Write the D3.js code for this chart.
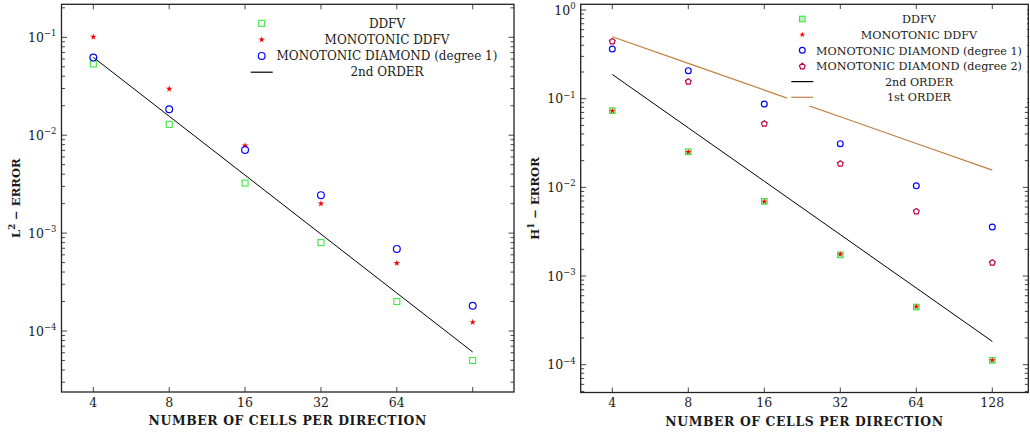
<!DOCTYPE html>
<html>
<head>
<meta charset="utf-8">
<script src="https://cdn.jsdelivr.net/npm/d3@7"></script>
<style>
  html, body { margin: 0; padding: 0; background: #fff; }
  svg { display: block; }
  text { font-family: "DejaVu Serif", "Liberation Serif", serif; fill: #1a1a1a; }
</style>
</head>
<body>
<svg id="chart" width="1030" height="435"></svg>
<script>
// Mesh sizes (cells per direction)
const cells = [4, 8, 16, 32, 64, 128];
const xTickLabelsL2 = ["4", "8", "16", "32", "64", ""];
const xTickLabelsH1 = ["4", "8", "16", "32", "64", "128"];

// L2 errors
const ddfvL2      = [0.0534, 0.0129, 0.00324, 0.00080, 0.000200, 0.0000500];
const monoDdfvL2  = [0.101, 0.0297, 0.00783, 0.00200, 0.000494, 0.000123];
const diamond1L2  = [0.0620, 0.0184, 0.00708, 0.00244, 0.000690, 0.000181];
const order2L2    = [0.0625, 0.015625, 0.00390625, 0.0009765625, 0.000244140625, 0.00006103515625];

// H1 errors
const ddfvH1      = [0.0733, 0.0252, 0.00695, 0.00173, 0.000447, 0.000112];
const monoDdfvH1  = [0.0728, 0.0250, 0.00690, 0.00176, 0.000452, 0.000112];
const diamond1H1  = [0.363, 0.207, 0.0871, 0.0311, 0.0104, 0.00357];
const diamond2H1  = [0.447, 0.157, 0.0527, 0.0187, 0.00540, 0.00143];
const order2H1    = [0.1875, 0.046875, 0.01171875, 0.0029296875, 0.000732421875, 0.00018310546875];
const order1H1    = [0.5, 0.25, 0.125, 0.0625, 0.03125, 0.015625];

// Tick values
const yTicksL2 = [1e-1, 1e-2, 1e-3, 1e-4];
const yTickExpL2 = ["\u22121", "\u22122", "\u22123", "\u22124"];
const yTicksH1 = [1e0, 1e-1, 1e-2, 1e-3, 1e-4];
const yTickExpH1 = ["0", "\u22121", "\u22122", "\u22123", "\u22124"];

const COLORS = {
  green: "#3ee83e",
  red: "#ff0000",
  blue: "#0000ff",
  purple: "#bf0040",
  black: "#000000",
  brown: "#bf8040"
};

const svg = d3.select("#chart");

function pentagonPath(r) {
  const pts = d3.range(5).map(i => {
    const a = -Math.PI / 2 + i * 2 * Math.PI / 5;
    return [r * Math.cos(a), r * Math.sin(a)];
  });
  return "M" + pts.map(p => p.join(",")).join("L") + "Z";
}

function drawMarker(g, kind, x, y, s) {
  if (kind === "square") {
    g.append("rect").attr("x", x - s.sq / 2).attr("y", y - s.sq / 2)
      .attr("width", s.sq).attr("height", s.sq)
      .attr("fill", s.sqFill).attr("stroke", COLORS.green).attr("stroke-width", 1.1);
  } else if (kind === "star") {
    g.append("path").attr("transform", `translate(${x},${y})`)
      .attr("d", d3.symbol(d3.symbolStar, s.star)())
      .attr("fill", COLORS.red);
  } else if (kind === "circle") {
    g.append("circle").attr("cx", x).attr("cy", y).attr("r", s.circ)
      .attr("fill", "none").attr("stroke", COLORS.blue).attr("stroke-width", 1.2);
  } else if (kind === "pentagon") {
    g.append("path").attr("transform", `translate(${x},${y + 0.4})`)
      .attr("d", pentagonPath(s.pent))
      .attr("fill", "none").attr("stroke", COLORS.purple).attr("stroke-width", 1.2);
  }
}

function drawPanel(cfg) {
  const g = svg.append("g");
  const x = d3.scaleLog().base(2).domain([4, 128]).range(cfg.xRange);
  const y = d3.scaleLog().domain(cfg.yDomain).range(cfg.yRange);
  const f = cfg.frame; // {l, r, t, b}

  // extended value limits at the frame edges
  const yLo = y.invert(f.b), yHi = y.invert(f.t);

  // minor + major y ticks (inward, both sides)
  const tickG = g.append("g").attr("stroke", "#333").attr("stroke-width", 0.9);
  const eMin = Math.floor(Math.log10(yLo)), eMax = Math.ceil(Math.log10(yHi));
  for (let e = eMin; e <= eMax; e++) {
    for (let m = 1; m <= 9; m++) {
      const v = m * Math.pow(10, e);
      if (v < yLo || v > yHi) continue;
      const py = y(v);
      const len = m === 1 ? 5.5 : 3.5;
      tickG.append("line").attr("x1", f.l).attr("x2", f.l + len).attr("y1", py).attr("y2", py);
      tickG.append("line").attr("x1", f.r).attr("x2", f.r - len).attr("y1", py).attr("y2", py);
    }
  }
  // x ticks (inward, top and bottom)
  cells.forEach(c => {
    const px = x(c);
    tickG.append("line").attr("x1", px).attr("x2", px).attr("y1", f.b).attr("y2", f.b - 5);
    tickG.append("line").attr("x1", px).attr("x2", px).attr("y1", f.t).attr("y2", f.t + 5);
  });

  // y tick labels 10^k
  cfg.yTicks.forEach((v, i) => {
    const t = g.append("text").attr("x", f.l - 5).attr("y", y(v) + 4.5)
      .attr("text-anchor", "end").attr("font-size", 12.5);
    t.append("tspan").text("10");
    t.append("tspan").attr("dy", -5.5).attr("font-size", 8.5).text(cfg.yExp[i]);
  });

  // x tick labels
  cells.forEach((c, i) => {
    g.append("text").attr("x", x(c)).attr("y", f.b + 14.5)
      .attr("text-anchor", "middle").attr("font-size", 12.5).text(cfg.xLabels[i]);
  });

  // axis titles
  g.append("text").attr("x", (f.l + f.r) / 2).attr("y", f.b + 33)
    .attr("text-anchor", "middle").attr("font-size", 12.4).attr("font-weight", "bold")
    .attr("letter-spacing", 0.6)
    .text("NUMBER OF CELLS PER DIRECTION");
  const yl = g.append("text")
    .attr("transform", `translate(${cfg.yLabelX},${(f.t + f.b) / 2}) rotate(-90)`)
    .attr("text-anchor", "middle").attr("font-size", 11.6).attr("font-weight", "bold");
  yl.append("tspan").text(cfg.yLetter);
  yl.append("tspan").attr("dy", -5).attr("font-size", 8.5).text(cfg.yPow);
  yl.append("tspan").attr("dy", 5).text(" \u2212 ERROR");

  // reference slope lines
  const line = d3.line().x((d, i) => x(cells[i])).y(d => y(d));
  cfg.lines.forEach(l => {
    g.append("path").attr("d", line(l.values)).attr("fill", "none")
      .attr("stroke", l.color).attr("stroke-width", l.width);
  });

  // legend (white background box, centered text)
  const lg = cfg.legend;
  if (lg.box) {
    g.append("rect").attr("x", lg.box[0]).attr("y", lg.box[1])
      .attr("width", lg.box[2]).attr("height", lg.box[3]).attr("fill", "#fff");
  }
  lg.items.forEach((it, i) => {
    const py = lg.y0 + i * lg.dy;
    if (it.kind === "line") {
      g.append("line").attr("x1", lg.mx - 11).attr("x2", lg.mx + 11)
        .attr("y1", py).attr("y2", py).attr("stroke", it.color).attr("stroke-width", it.width);
    } else {
      drawMarker(g, it.kind, lg.mx, py, cfg.marks);
    }
    g.append("text").attr("x", lg.tx).attr("y", py + 4.2)
      .attr("text-anchor", "middle").attr("font-size", lg.fs).text(it.label);
  });

  // data markers
  cfg.series.forEach(s => {
    s.values.forEach((v, i) => drawMarker(g, s.kind, x(cells[i]), y(v), cfg.marks));
  });

  // frame
  g.append("rect").attr("x", f.l).attr("y", f.t).attr("width", f.r - f.l).attr("height", f.b - f.t)
    .attr("fill", "none").attr("stroke", "#222").attr("stroke-width", 1.3);
}

drawPanel({
  xRange: [93.3, 472.7],
  yDomain: [1e-4, 1e-1],
  yRange: [331, 37.3],
  frame: { l: 61.5, r: 514, t: 4.3, b: 392 },
  yTicks: yTicksL2, yExp: yTickExpL2, xLabels: xTickLabelsL2,
  yLabelX: 20, yLetter: "L", yPow: "2",
  marks: { sq: 6, sqFill: "none", star: 13, circ: 3.4, pent: 3.2 },
  lines: [{ values: order2L2, color: COLORS.black, width: 1 }],
  series: [
    { kind: "square", values: ddfvL2 },
    { kind: "star", values: monoDdfvL2 },
    { kind: "circle", values: diamond1L2 }
  ],
  legend: {
    box: null, mx: 261.7, tx: 387, y0: 23.3, dy: 16.3, fs: 12,
    items: [
      { kind: "square", label: "DDFV" },
      { kind: "star", label: "MONOTONIC DDFV" },
      { kind: "circle", label: "MONOTONIC DIAMOND (degree 1)" },
      { kind: "line", color: COLORS.black, width: 1.2, label: "2nd ORDER" }
    ]
  }
});

drawPanel({
  xRange: [612.3, 992.3],
  yDomain: [1e-4, 1e0],
  yRange: [364.7, 10],
  frame: { l: 580.7, r: 1028.3, t: 4.3, b: 392.5 },
  yTicks: yTicksH1, yExp: yTickExpH1, xLabels: xTickLabelsH1,
  yLabelX: 539, yLetter: "H", yPow: "1",
  marks: { sq: 5.6, sqFill: "#b8f5b8", star: 11, circ: 2.9, pent: 3 },
  lines: [
    { values: order2H1, color: COLORS.black, width: 1 },
    { values: order1H1, color: COLORS.brown, width: 1.2 }
  ],
  series: [
    { kind: "square", values: ddfvH1 },
    { kind: "star", values: monoDdfvH1 },
    { kind: "circle", values: diamond1H1 },
    { kind: "pentagon", values: diamond2H1 }
  ],
  legend: {
    box: [787, 9, 240, 97], mx: 802.3, tx: 919, y0: 19, dy: 15.65, fs: 11.2,
    items: [
      { kind: "square", label: "DDFV" },
      { kind: "star", label: "MONOTONIC DDFV" },
      { kind: "circle", label: "MONOTONIC DIAMOND (degree 1)" },
      { kind: "pentagon", label: "MONOTONIC DIAMOND (degree 2)" },
      { kind: "line", color: COLORS.black, width: 1.2, label: "2nd ORDER" },
      { kind: "line", color: COLORS.brown, width: 1.2, label: "1st ORDER" }
    ]
  }
});
</script>
</body>
</html>
